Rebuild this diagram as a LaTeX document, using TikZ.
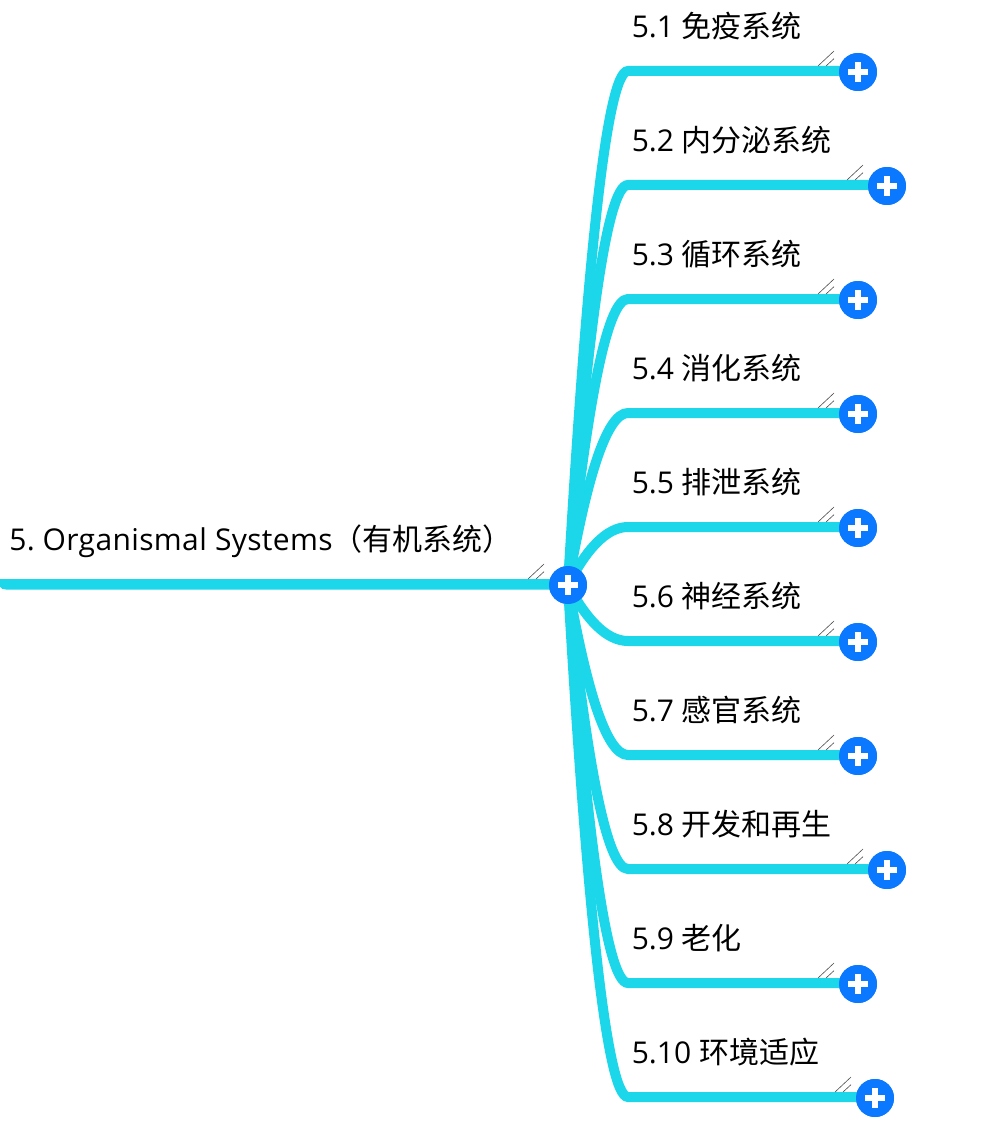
\documentclass[tikz,border=0pt]{standalone}
\usepackage{fontspec}
\setmainfont{Open Sans}
\newfontfamily\cjkfont{Noto Sans CJK SC}
\newfontfamily\rootlatin[LetterSpace=1.2]{Open Sans}
\tikzset{
  x=0.75pt,y=-0.75pt,
  branchline/.style={draw=lineblue,line width=7.5pt,line cap=butt},
  hubdot/.style={circle,fill=hubblue,minimum size=28.5pt,inner sep=0pt},
  label/.style={anchor=base west,inner sep=0pt,font=\fontsize{22.5pt}{26pt}\selectfont,text=black},
  hatch/.style={draw=black!70,line width=0.45pt},
}
\definecolor{lineblue}{HTML}{1CD6EA}
\definecolor{hubblue}{HTML}{0A78FF}
\newcommand{\plussign}[1]{%
  \fill[white] ([xshift=-7.5pt,yshift=-2.25pt]#1.center) rectangle ([xshift=7.5pt,yshift=2.25pt]#1.center);
  \fill[white] ([xshift=-2.25pt,yshift=-7.5pt]#1.center) rectangle ([xshift=2.25pt,yshift=7.5pt]#1.center);}
\newcommand{\hatchmark}[1]{%
  \draw[hatch] ([xshift=-30pt,yshift=4.5pt]#1.center) -- ([xshift=-18pt,yshift=15.75pt]#1.center);
  \draw[hatch] ([xshift=-24pt,yshift=4.5pt]#1.center) -- ([xshift=-18pt,yshift=10pt]#1.center);}
\newcommand{\branch}[4]{% name, y, plus x, text
  \coordinate (c#1) at (628,#2);
  \node[hubdot] (p#1) at (#3,#2+1) {};
  \node[label] (t#1) at (631.5,#2-33.5) {#4};
}
\begin{document}
\begin{tikzpicture}
\useasboundingbox (0,0) rectangle (994,1123);
\coordinate (start) at (0,584);
\node[hubdot] (hub) at (568,585) {};
\node[label] (troot) at (9,550.5) {\rootlatin 5.\kern-2.2pt{} Organismal Systems{\cjkfont（有机系统）}};
\branch{a}{71}{858}{5.1 {\cjkfont 免疫系统}}
\branch{b}{185}{887}{5.2 {\cjkfont 内分泌系统}}
\branch{c}{299}{858}{5.3 {\cjkfont 循环系统}}
\branch{d}{413}{858}{5.4 {\cjkfont 消化系统}}
\branch{e}{527}{858}{5.5 {\cjkfont 排泄系统}}
\branch{f}{641}{858}{5.6 {\cjkfont 神经系统}}
\branch{g}{755}{858}{5.7 {\cjkfont 感官系统}}
\branch{h}{869}{887}{5.8 {\cjkfont 开发和再生}}
\branch{i}{983}{858}{5.9 {\cjkfont 老化}}
\branch{j}{1097}{875}{5.10 {\cjkfont 环境适应}}
\fill[lineblue] (0,579) -- (568,579) -- (568,589.5) -- (6,589.5) .. controls (3,589.5) and (1,588.5) .. (0,586.5) -- cycle;
\foreach \n/\y in {a/71,b/185,c/299,d/413,e/527,f/641,g/755,h/869,i/983,j/1097}{
  \draw[branchline] (568,585) .. controls (586,{585+0.6*(\y-585)}) and (606,\y) .. (c\n) -- (c\n -| p\n.center);
}
\node[hubdot] at (hub) {};
\plussign{hub}
\hatchmark{hub}
\foreach \n in {a,b,c,d,e,f,g,h,i,j}{
  \node[hubdot] at (p\n) {};
  \plussign{p\n}
  \hatchmark{p\n}
}
\end{tikzpicture}
\end{document}
